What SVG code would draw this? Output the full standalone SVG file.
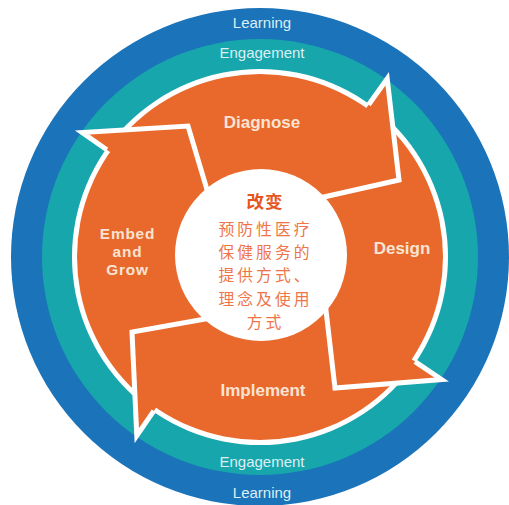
<svg xmlns="http://www.w3.org/2000/svg" width="509" height="505" viewBox="0 0 509 505">
<style>
.ring{font-family:"Liberation Sans",Arial,sans-serif;font-size:15px;fill:#DDEFF4;text-anchor:middle}
.lbl{font-family:"Liberation Sans",Arial,sans-serif;font-size:17px;font-weight:bold;fill:#F9E4D4;text-anchor:middle}
.lbs{font-family:"Liberation Sans",Arial,sans-serif;font-size:15.4px;letter-spacing:0.8px;font-weight:bold;fill:#F9E4D4;text-anchor:middle}
.head{fill:#E8692B;stroke:none}
.edge{fill:none;stroke:#FFFFFF;stroke-width:5;stroke-linejoin:miter;stroke-miterlimit:10}
.cn{font-family:"Noto Sans CJK SC","Noto Sans CJK JP",sans-serif;font-size:15.8px;letter-spacing:3px;fill:#EE7548;text-anchor:middle}
.cnt{font-family:"Noto Sans CJK SC","Noto Sans CJK JP",sans-serif;font-size:17.5px;letter-spacing:1px;font-weight:bold;fill:#E4561E;text-anchor:middle}
</style>
<rect width="509" height="505" fill="#FFFFFF"/>
<g id="rings">
<circle cx="260" cy="257" r="249" fill="#1B73B9"/>
<circle cx="260" cy="257" r="218" fill="#17A6AC"/>
<circle cx="260" cy="257" r="188" fill="#FFFFFF"/>
<circle cx="260" cy="257" r="183" fill="#E8692B"/>
<text class="ring" x="262" y="28">Learning</text>
<text class="ring" x="262" y="58">Engagement</text>
<text class="ring" x="262" y="467">Engagement</text>
<text class="ring" x="262" y="498">Learning</text>
</g>
<g id="connectors"></g>
<g id="diagnose">
<polygon class="head" points="368.6,104.8 387.2,78.7 399,180 315,199 306.5,191.9 364.5,110.5"/>
<polyline class="edge" points="368.6,104.8 387.2,78.7 399,180 315,199"/>
<text class="lbl" x="262" y="128">Diagnose</text>
</g>
<g id="design">
<polygon class="head" points="415,361.6 441.6,379.5 335,388 324,293 318,296.1 409.2,357.6"/>
<polyline class="edge" points="415,361.6 441.6,379.5 335,388 324,293"/>
<text class="lbl" x="402" y="254">Design</text>
</g>
<g id="implement">
<polygon class="head" points="153.8,410.9 136.8,435.6 132,332 220,317 223.1,310.5 157.8,405.2"/>
<polyline class="edge" points="153.8,410.9 136.8,435.6 132,332 222,316"/>
<text class="lbl" x="263" y="396">Implement</text>
</g>
<g id="embed">
<polygon class="head" points="106.8,149.7 82.2,132.5 188,126 211,203 198.6,214 112.5,153.8"/>
<polyline class="edge" points="106.8,149.7 82.2,132.5 188,126 211,203"/>
<text class="lbs" x="127.5" y="239">Embed</text>
<text class="lbs" x="127.5" y="256.9">and</text>
<text class="lbs" x="127.5" y="274.8">Grow</text>
</g>
<g id="center">
<circle cx="261" cy="255" r="86" fill="#FFFFFF"/>
<text class="cnt" x="265" y="208">改变</text>
<text class="cn" x="265.5" y="235">预防性医疗</text>
<text class="cn" x="265.5" y="258.2">保健服务的</text>
<text class="cn" x="265.5" y="281.4">提供方式、</text>
<text class="cn" x="265.5" y="304.6">理念及使用</text>
<text class="cn" x="265.5" y="327.8">方式</text>
</g>
</svg>
